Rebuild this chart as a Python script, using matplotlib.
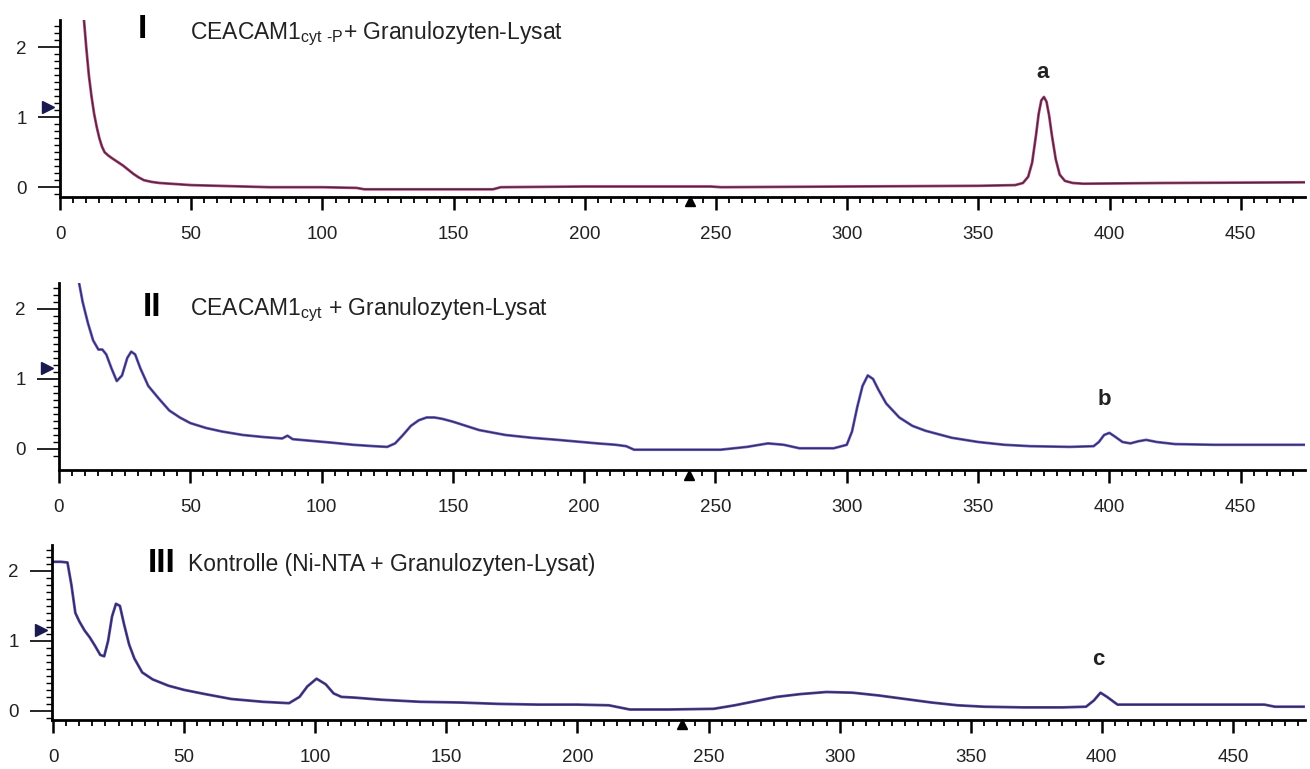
import numpy as np
import matplotlib
matplotlib.use("Agg")
import matplotlib.pyplot as plt
from matplotlib.ticker import FixedLocator

plt.rcParams['font.family'] = ['Liberation Sans', 'DejaVu Sans']
plt.rcParams['mathtext.fontset'] = 'custom'
plt.rcParams['mathtext.rm'] = 'Liberation Sans'

# --- trace I: CEACAM1cyt-P + Granulozyten-Lysat
x1 = [9, 10, 11, 12, 13, 14, 15, 16, 17, 18.5, 20, 22, 24, 26, 28, 30, 32, 35, 38, 42, 50,
      60, 80, 100, 113, 116, 140, 165, 168, 200, 248, 252, 300, 350, 364, 367, 369, 370.5,
      372, 373, 374, 375, 376, 377, 378, 379.5, 381, 383, 386, 390, 420, 475]
y1 = [2.45, 2.0, 1.6, 1.3, 1.05, 0.86, 0.7, 0.58, 0.5, 0.45, 0.41, 0.36, 0.31, 0.25, 0.19,
      0.14, 0.1, 0.075, 0.06, 0.05, 0.03, 0.02, 0.0, 0.0, -0.01, -0.03, -0.03, -0.03, 0.0,
      0.01, 0.01, 0.0, 0.01, 0.02, 0.03, 0.06, 0.15, 0.35, 0.75, 1.05, 1.24, 1.29, 1.22,
      1.02, 0.75, 0.4, 0.18, 0.09, 0.06, 0.05, 0.06, 0.07]

# --- trace II: CEACAM1cyt + Granulozyten-Lysat
x2 = [7.5, 9, 11, 13, 15, 16.5, 18, 20, 22, 24, 26, 27.5, 29, 31, 34, 38, 42, 46, 50, 56,
      62, 70, 78, 85, 87, 89, 95, 104, 112, 120, 125, 128, 131, 134, 137, 140, 143, 146,
      150, 155, 160, 170, 180, 190, 205, 212, 216, 219, 225, 240, 252, 262, 270, 276, 282,
      295, 300, 302, 304, 306, 308, 310, 312, 315, 320, 325, 330, 340, 350, 360, 370, 385,
      394, 396, 398, 400, 402, 405, 408, 411, 414, 418, 425, 440, 455, 475]
y2 = [2.4, 2.1, 1.8, 1.55, 1.42, 1.42, 1.35, 1.15, 0.97, 1.05, 1.3, 1.39, 1.35, 1.15, 0.9,
      0.72, 0.55, 0.45, 0.37, 0.3, 0.25, 0.2, 0.17, 0.15, 0.19, 0.14, 0.12, 0.09, 0.06,
      0.04, 0.03, 0.08, 0.2, 0.33, 0.41, 0.45, 0.45, 0.43, 0.39, 0.33, 0.27, 0.2, 0.16,
      0.13, 0.08, 0.06, 0.04, -0.01, -0.01, -0.01, -0.01, 0.03, 0.08, 0.06, 0.01, 0.01,
      0.06, 0.25, 0.6, 0.9, 1.05, 1.0, 0.85, 0.65, 0.45, 0.33, 0.26, 0.16, 0.1, 0.06,
      0.04, 0.03, 0.04, 0.1, 0.2, 0.23, 0.18, 0.1, 0.08, 0.11, 0.13, 0.1, 0.07, 0.06,
      0.06, 0.06]

# --- trace III: Kontrolle
x3 = [0, 3, 5.5, 7, 8.5, 10, 12, 14, 16, 18, 19.5, 21, 22.5, 24, 25.5, 27, 29, 31, 34, 38,
      44, 50, 58, 68, 80, 90, 94, 97, 100.5, 104, 107, 110, 115, 125, 140, 155, 170, 185,
      200, 212, 220, 235, 252, 260, 268, 276, 285, 295, 305, 315, 325, 335, 345, 355, 370,
      385, 394, 397, 399.5, 402, 406, 420, 450, 462, 466, 477]
y3 = [2.13, 2.13, 2.12, 1.8, 1.4, 1.28, 1.15, 1.05, 0.93, 0.8, 0.78, 1.0, 1.35, 1.53, 1.5,
      1.25, 0.95, 0.75, 0.55, 0.45, 0.36, 0.3, 0.24, 0.17, 0.13, 0.11, 0.2, 0.35, 0.46,
      0.38, 0.25, 0.2, 0.19, 0.16, 0.13, 0.12, 0.1, 0.09, 0.09, 0.08, 0.02, 0.02, 0.03,
      0.08, 0.14, 0.2, 0.24, 0.27, 0.26, 0.22, 0.17, 0.12, 0.08, 0.06, 0.05, 0.05, 0.06,
      0.15, 0.26, 0.2, 0.09, 0.09, 0.09, 0.09, 0.06, 0.06]

xticks = [0, 50, 100, 150, 200, 250, 300, 350, 400, 450]
yticks = [0, 1, 2]

W, H = 1310, 769
fig = plt.figure(figsize=(W / 100, H / 100), dpi=100)


def px_axes(left, right, top, bottom):
    return fig.add_axes([left / W, 1 - bottom / H, (right - left) / W, (bottom - top) / H])


panels = [
    dict(box=(60, 1305, 20, 197), xlim=(0, 474.5), ylim=(-0.14, 2.39), x=x1, y=y1,
         col='#c8407a', peak='a', peak_xy=(374.5, 1.64), ymark=1.14),
    dict(box=(59, 1305, 283, 470), xlim=(0, 474.5), ylim=(-0.30, 2.37), x=x2, y=y2,
         col='#7060e0', peak='b', peak_xy=(398, 0.70), ymark=1.16),
    dict(box=(52, 1305, 545, 720), xlim=(-0.4, 477.5), ylim=(-0.13, 2.37), x=x3, y=y3,
         col='#5a4ac0', peak='c', peak_xy=(398.5, 0.73), ymark=1.16),
]

for p in panels:
    ax = px_axes(*p['box'])
    ax.plot(p['x'], p['y'], color=p['col'], lw=2.0, solid_joinstyle='round')
    ax.plot(p['x'], p['y'], color='#2a2a3a', lw=1.0, alpha=0.85)
    ax.set_xlim(*p['xlim'])
    ax.set_ylim(*p['ylim'])

    for s in ['top', 'right']:
        ax.spines[s].set_visible(False)
    for s in ['left', 'bottom']:
        ax.spines[s].set_linewidth(2.0)

    ax.set_xticks(xticks)
    ax.set_xticklabels([str(t) for t in xticks])
    ax.xaxis.set_minor_locator(FixedLocator(np.arange(0, 476, 5)))
    ax.set_yticks(yticks)
    ax.set_yticklabels([str(t) for t in yticks])
    ax.yaxis.set_minor_locator(FixedLocator(np.arange(-0.1, 2.35, 0.1)))

    ax.tick_params(axis='x', which='major', direction='out', length=9, width=1.8,
                   pad=12, labelsize=13.5, labelcolor='#222222')
    ax.tick_params(axis='x', which='minor', direction='out', length=4.5, width=1.3)
    ax.tick_params(axis='y', which='major', direction='out', length=16, width=1.2,
                   pad=8, labelsize=13.5, labelcolor='#222222')
    ax.tick_params(axis='y', which='minor', direction='out', length=4, width=1.0)

    # injection / fraction markers
    ax.plot([-4.6], [p['ymark']], marker='>', ms=8, color='#1a1a50', clip_on=False)
    ax.plot([240], [-0.025], marker='^', ms=7, color='black', clip_on=False,
            transform=ax.get_xaxis_transform())

    ax.text(p['peak_xy'][0], p['peak_xy'][1], p['peak'], fontsize=16, fontweight='bold',
            ha='center', va='center', color='#222222')

# panel titles
def ftext(px, py, s, **kw):
    fig.text(px / W, 1 - py / H, s, **kw)

ftext(142, 30, 'I', fontsize=24, fontweight='bold', ha='center', va='center')
ftext(190, 34, r'CEACAM1$_{\mathrm{cyt\ \text{-}P}}$+ Granulozyten-Lysat', fontsize=16.5,
      ha='left', va='center', color='#222222')
ftext(152, 307, 'II', fontsize=24, fontweight='bold', ha='center', va='center')
ftext(190, 310, r'CEACAM1$_{\mathrm{cyt}}$ + Granulozyten-Lysat', fontsize=16.5,
      ha='left', va='center', color='#222222')
ftext(162, 564, 'III', fontsize=24, fontweight='bold', ha='center', va='center')
ftext(188, 564, 'Kontrolle (Ni-NTA + Granulozyten-Lysat)', fontsize=16.5,
      ha='left', va='center', color='#222222')

fig.savefig('out.png', dpi=100)
